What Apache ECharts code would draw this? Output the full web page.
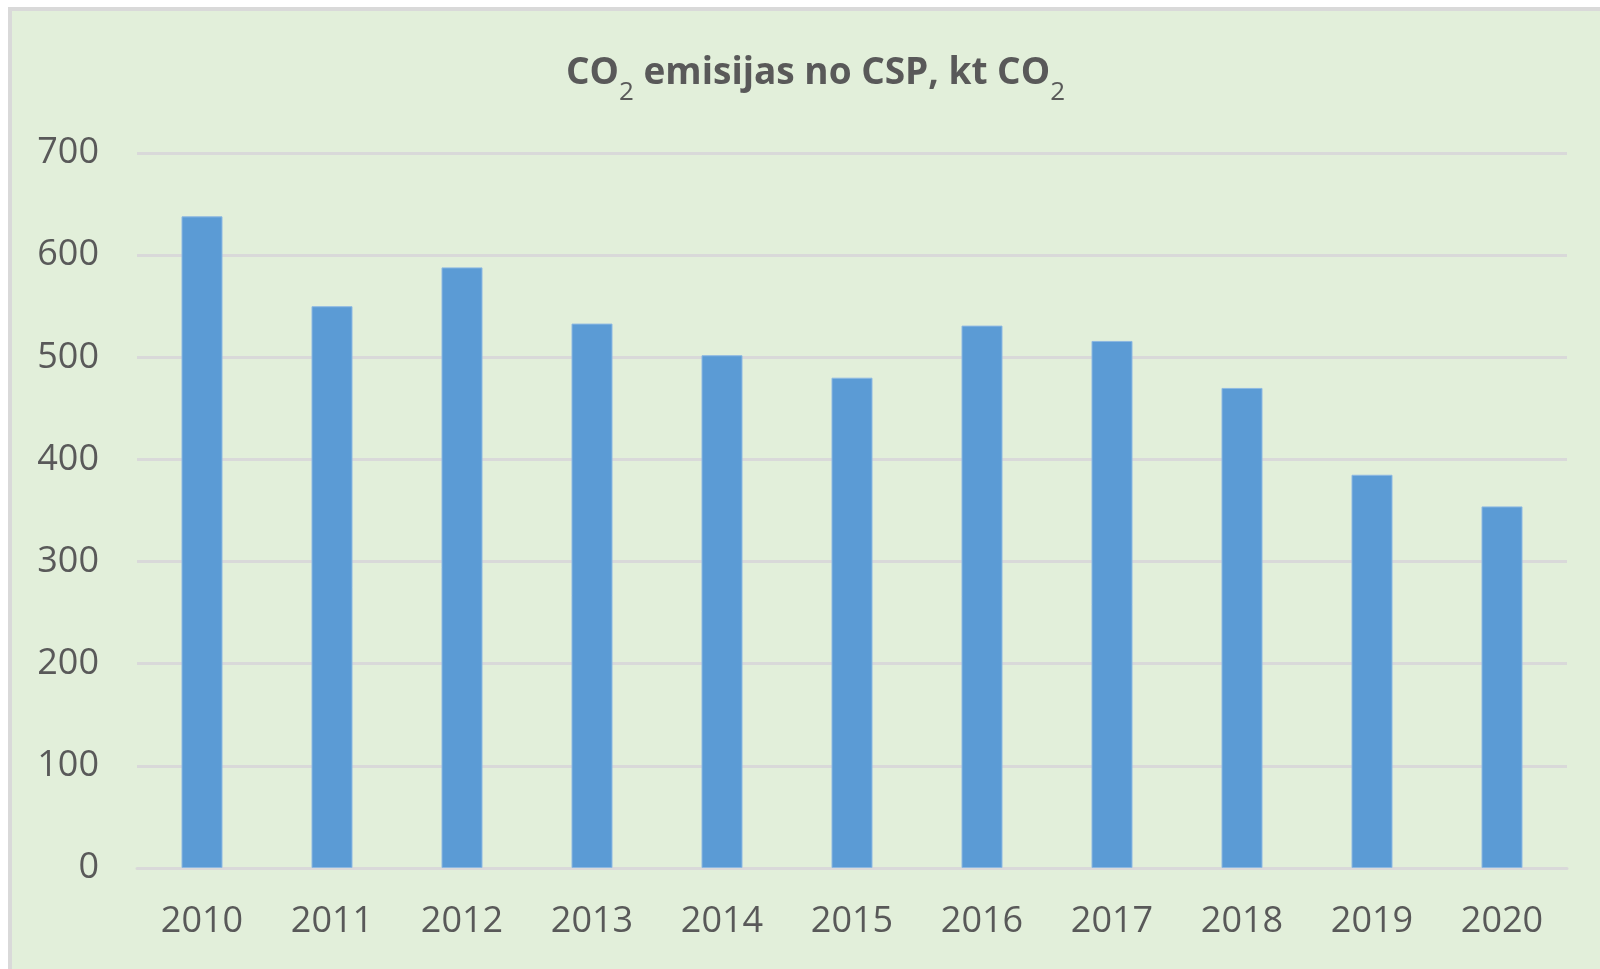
<!DOCTYPE html>
<html>
<head>
<meta charset="utf-8">
<script src="https://cdn.jsdelivr.net/npm/echarts@6/dist/echarts.min.js"></script>
<style>
    html, body {
        margin: 0;
        padding: 0;
        width: 1600px;
        height: 969px;
        overflow: hidden;
        background: #ffffff;
    }
    #frame {
        position: absolute;
        left: 8px;
        top: 7px;
        width: 1610px;
        height: 980px;
        border-left: 4px solid #d9d9d9;
        border-top: 4px solid #d9d9d9;
        background: #e2efda;
    }
    #chart {
        position: absolute;
        left: 0;
        top: 0;
        width: 1600px;
        height: 969px;
    }
</style>
</head>
<body>
<div id="frame"></div>
<div id="chart"></div>
<script>
    // CO2 emisijas no CSP, kt CO2
    var years = ['2010', '2011', '2012', '2013', '2014', '2015', '2016', '2017', '2018', '2019', '2020'];
    var emissions = [638, 550, 588, 533, 502, 480, 531, 516, 470, 385, 354];

    var textColor = '#595959';
    var font = '"Open Sans", "Noto Sans", sans-serif';

    var chart = echarts.init(document.getElementById('chart'));
    chart.setOption({
        backgroundColor: 'transparent',
        title: {
            text: '{m|CO}{s|2}{m| emisijas no CSP, kt CO}{s|2}',
            left: 561,
            top: 50,
            textStyle: {
                rich: {
                    m: {
                        fontFamily: font,
                        fontWeight: 'bold',
                        fontSize: 37,
                        color: textColor,
                        lineHeight: 46,
                        verticalAlign: 'top'
                    },
                    s: {
                        fontFamily: font,
                        fontWeight: 'normal',
                        fontSize: 26,
                        color: textColor,
                        lineHeight: 26,
                        padding: [25, 0, 0, 0],
                        verticalAlign: 'top'
                    }
                }
            }
        },
        grid: {
            left: 137,
            right: 33,
            top: 153,
            bottom: 101,
            containLabel: false
        },
        xAxis: {
            type: 'category',
            data: years,
            axisLine: {show: true, lineStyle: {color: '#d9d9d9', width: 3}},
            axisTick: {show: false},
            axisLabel: {
                color: textColor,
                fontFamily: font,
                fontSize: 36,
                margin: 36
            }
        },
        yAxis: {
            type: 'value',
            min: 0,
            max: 700,
            interval: 100,
            axisLine: {show: false},
            axisTick: {show: false},
            splitLine: {lineStyle: {color: '#d9d9d9', width: 3}},
            axisLabel: {
                color: textColor,
                fontFamily: font,
                fontSize: 36,
                margin: 38
            }
        },
        series: [{
            type: 'bar',
            data: emissions,
            barWidth: 41,
            itemStyle: {
                color: '#5b9bd5',
                borderColor: '#8db8e2',
                borderWidth: 1
            }
        }]
    });
</script>
</body>
</html>
